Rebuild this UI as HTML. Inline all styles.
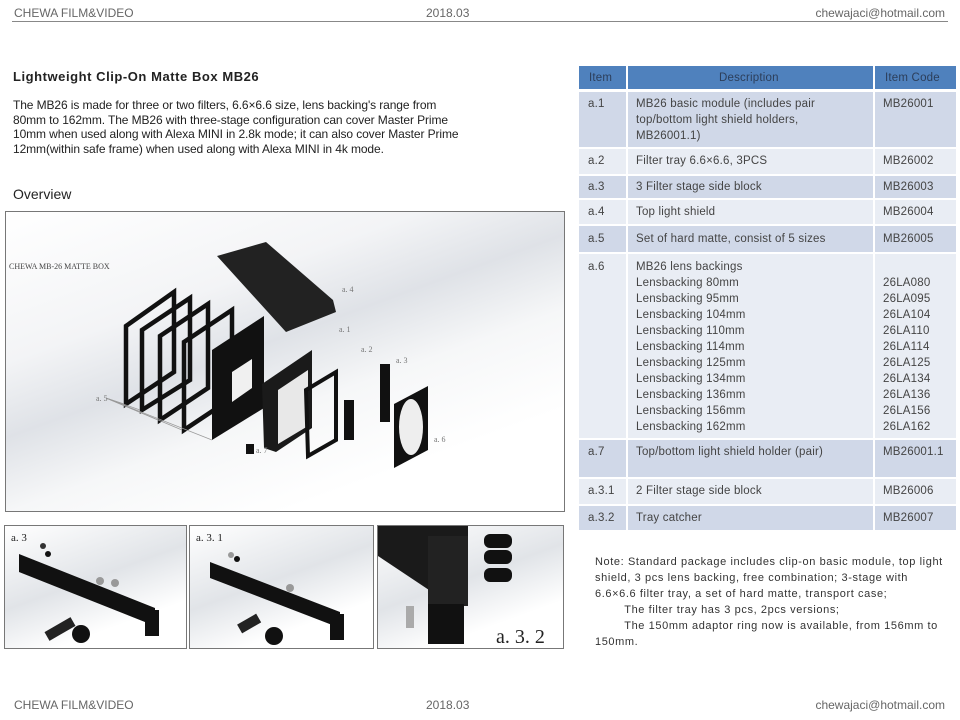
<!DOCTYPE html>
<html><head><meta charset="utf-8"><style>
*{margin:0;padding:0;box-sizing:border-box}
body{width:960px;height:720px;position:relative;background:#fff;font-family:"Liberation Sans",sans-serif;overflow:hidden;color:#222}
.a{position:absolute;white-space:nowrap}
.hd{font-size:12px;color:#666}
.r{position:absolute;left:579px;width:377px}
.c{position:absolute;top:0;bottom:0}
.c1{left:0;width:47px}.c2{left:49px;width:245px}.c3{left:296px;width:81px}
.t{position:absolute;font-size:11.5px;color:#444;line-height:16px;white-space:nowrap;letter-spacing:0.2px}
.dk .c{background:#d0d8e8}.lt .c{background:#e9edf4}
.img{position:absolute;border:1px solid #777;overflow:hidden}
</style></head><body>
<div class="a hd" style="left:14px;top:6px">CHEWA FILM&amp;VIDEO</div>
<div class="a hd" style="left:426px;top:6px">2018.03</div>
<div class="a hd" style="right:15px;top:6px">chewajaci@hotmail.com</div>
<div class="a" style="left:12px;top:21px;width:936px;height:1px;background:#888"></div>

<div class="a" style="left:13px;top:69px;font-size:13px;font-weight:bold;color:#222;letter-spacing:0.55px">Lightweight Clip-On Matte Box MB26</div>
<div class="a" style="left:13px;top:98px;font-size:12px;line-height:14.7px;color:#222;letter-spacing:-0.1px">The MB26 is made for three or two filters, 6.6×6.6 size, lens backing's range from<br>80mm to 162mm. The MB26 with three-stage configuration can cover Master Prime<br>10mm when used along with Alexa MINI in 2.8k mode; it can also cover Master Prime<br>12mm(within safe frame) when used along with Alexa MINI in 4k mode.</div>
<div class="a" style="left:13px;top:186px;font-size:14px;color:#222">Overview</div>

<!-- main image -->
<div class="img" style="left:5px;top:211px;width:560px;height:301px;background:linear-gradient(160deg,#fff 0%,#f3f4f6 30%,#dfe2e7 45%,#f6f7f8 60%,#fff 80%)">
<svg width="560" height="301" viewBox="0 0 560 301" xmlns="http://www.w3.org/2000/svg">
<text x="3" y="57" font-family="Liberation Serif" font-size="8" fill="#444">CHEWA MB-26 MATTE BOX</text>
<g fill="none" stroke="#111" stroke-width="4.5">
<polygon points="120,114 168,80 168,160 120,192"/>
<polygon points="136,118 184,86 184,168 136,198"/>
<polygon points="154,124 202,92 202,176 154,208"/>
<polygon points="178,130 226,98 226,186 178,218"/>
</g>
<polygon points="206,138 258,104 258,196 206,228" fill="#111"/>
<polygon points="226,160 246,147 246,176 226,190" fill="#f0f0f0"/>
<polygon points="211,44 260,30 327,88 330,100 280,120" fill="#222"/>
<polygon points="256,172 306,138 306,216 270,240 258,236" fill="#1a1a1a"/>
<polygon points="272,178 302,158 302,214 272,232" fill="#e8e8e8"/>
<polygon points="300,178 330,160 330,228 302,244" fill="none" stroke="#111" stroke-width="4"/>
<rect x="338" y="188" width="10" height="40" fill="#111"/>
<rect x="374" y="152" width="10" height="58" fill="#111"/>
<polygon points="388,192 422,174 422,238 388,256" fill="#111"/>
<ellipse cx="405" cy="215" rx="12" ry="28" fill="#eee"/>
<rect x="240" y="232" width="8" height="10" fill="#111"/>
<g stroke="#999" stroke-width="0.7"><line x1="100" y1="186" x2="118" y2="192"/><line x1="100" y1="186" x2="134" y2="198"/><line x1="100" y1="186" x2="152" y2="208"/><line x1="100" y1="186" x2="176" y2="218"/><line x1="100" y1="186" x2="206" y2="228"/></g>
<g font-family="Liberation Serif" font-size="8" fill="#777">
<text x="336" y="80">a. 4</text><text x="333" y="120">a. 1</text><text x="355" y="140">a. 2</text><text x="390" y="151">a. 3</text><text x="90" y="189">a. 5</text><text x="428" y="230">a. 6</text><text x="250" y="241">a. 7</text></g>
</svg></div>

<!-- bottom images -->
<div class="img" style="left:4px;top:525px;width:183px;height:124px;background:linear-gradient(160deg,#fff,#e1e4e8 45%,#fff 75%)">
<svg width="183" height="124"><text x="6" y="15" font-family="Liberation Serif" font-size="11" fill="#222">a. 3</text>
<polygon points="14,28 150,82 150,100 14,46" fill="#111"/><rect x="140" y="84" width="14" height="26" fill="#111"/>
<circle cx="76" cy="108" r="9" fill="#111"/><rect x="40" y="98" width="30" height="10" fill="#222" transform="rotate(-30 55 103)"/>
<circle cx="38" cy="20" r="3" fill="#333"/><circle cx="43" cy="28" r="3" fill="#111"/><circle cx="95" cy="55" r="4" fill="#999"/><circle cx="110" cy="57" r="4" fill="#999"/></svg></div>
<div class="img" style="left:189px;top:525px;width:185px;height:124px;background:linear-gradient(160deg,#fff,#e1e4e8 45%,#fff 75%)">
<svg width="185" height="124"><text x="6" y="15" font-family="Liberation Serif" font-size="11" fill="#222">a. 3. 1</text>
<polygon points="20,36 150,86 150,102 20,52" fill="#111"/><rect x="140" y="88" width="14" height="26" fill="#111"/>
<circle cx="84" cy="110" r="9" fill="#111"/><rect x="48" y="92" width="22" height="10" fill="#222" transform="rotate(-30 60 97)"/>
<circle cx="41" cy="29" r="3" fill="#999"/><circle cx="47" cy="33" r="3" fill="#111"/><circle cx="100" cy="62" r="4" fill="#999"/></svg></div>
<div class="img" style="left:377px;top:525px;width:187px;height:124px;background:linear-gradient(160deg,#fff,#e1e4e8 45%,#fff 75%)">
<svg width="187" height="124"><polygon points="0,0 90,0 90,60 60,70 0,30" fill="#1a1a1a"/>
<rect x="50" y="10" width="40" height="70" fill="#222"/><rect x="50" y="78" width="36" height="40" fill="#111"/>
<rect x="106" y="8" width="28" height="14" rx="6" fill="#111"/><rect x="106" y="24" width="28" height="14" rx="6" fill="#111"/><rect x="106" y="42" width="28" height="14" rx="6" fill="#111"/>
<rect x="28" y="80" width="8" height="22" fill="#aaa"/>
<text x="118" y="117" font-family="Liberation Serif" font-size="20" fill="#222">a. 3. 2</text></svg></div>

<!-- table -->
<div class="r" style="top:66px;height:23px"><div class="c c1" style="background:#4f81bd"></div><div class="c c2" style="background:#4f81bd"></div><div class="c c3" style="background:#4f81bd"></div>
<div class="t" style="left:10px;top:4px;color:#2c3e5a">Item</div><div class="t" style="left:140px;top:4px;color:#2c3e5a">Description</div><div class="t" style="left:306px;top:4px;color:#2c3e5a">Item Code</div></div>

<div class="r dk" style="top:92px;height:55px"><div class="c c1"></div><div class="c c2"></div><div class="c c3"></div>
<div class="t" style="left:9px;top:4px">a.1</div><div class="t" style="left:57px;top:4px">MB26 basic module (includes pair<br>top/bottom light shield holders,<br>MB26001.1)</div><div class="t" style="left:304px;top:4px">MB26001</div></div>
<div class="r lt" style="top:149px;height:25px"><div class="c c1"></div><div class="c c2"></div><div class="c c3"></div>
<div class="t" style="left:9px;top:4px">a.2</div><div class="t" style="left:57px;top:4px">Filter tray 6.6×6.6, 3PCS</div><div class="t" style="left:304px;top:4px">MB26002</div></div>
<div class="r dk" style="top:176px;height:22px"><div class="c c1"></div><div class="c c2"></div><div class="c c3"></div>
<div class="t" style="left:9px;top:3px">a.3</div><div class="t" style="left:57px;top:3px">3 Filter stage side block</div><div class="t" style="left:304px;top:3px">MB26003</div></div>
<div class="r lt" style="top:200px;height:24px"><div class="c c1"></div><div class="c c2"></div><div class="c c3"></div>
<div class="t" style="left:9px;top:4px">a.4</div><div class="t" style="left:57px;top:4px">Top light shield</div><div class="t" style="left:304px;top:4px">MB26004</div></div>
<div class="r dk" style="top:226px;height:26px"><div class="c c1"></div><div class="c c2"></div><div class="c c3"></div>
<div class="t" style="left:9px;top:5px">a.5</div><div class="t" style="left:57px;top:5px">Set of hard matte, consist of 5 sizes</div><div class="t" style="left:304px;top:5px">MB26005</div></div>
<div class="r lt" style="top:254px;height:184px"><div class="c c1"></div><div class="c c2"></div><div class="c c3"></div>
<div class="t" style="left:9px;top:5px">a.6</div>
<div class="t" style="left:57px;top:5px">MB26 lens backings<br>Lensbacking 80mm<br>Lensbacking 95mm<br>Lensbacking 104mm<br>Lensbacking 110mm<br>Lensbacking 114mm<br>Lensbacking 125mm<br>Lensbacking 134mm<br>Lensbacking 136mm<br>Lensbacking 156mm<br>Lensbacking 162mm</div>
<div class="t" style="left:304px;top:21px">26LA080<br>26LA095<br>26LA104<br>26LA110<br>26LA114<br>26LA125<br>26LA134<br>26LA136<br>26LA156<br>26LA162</div></div>
<div class="r dk" style="top:440px;height:37px"><div class="c c1"></div><div class="c c2"></div><div class="c c3"></div>
<div class="t" style="left:9px;top:4px">a.7</div><div class="t" style="left:57px;top:4px">Top/bottom light shield holder (pair)</div><div class="t" style="left:304px;top:4px">MB26001.1</div></div>
<div class="r lt" style="top:479px;height:25px"><div class="c c1"></div><div class="c c2"></div><div class="c c3"></div>
<div class="t" style="left:9px;top:4px">a.3.1</div><div class="t" style="left:57px;top:4px">2 Filter stage side block</div><div class="t" style="left:304px;top:4px">MB26006</div></div>
<div class="r dk" style="top:506px;height:24px"><div class="c c1"></div><div class="c c2"></div><div class="c c3"></div>
<div class="t" style="left:9px;top:4px">a.3.2</div><div class="t" style="left:57px;top:4px">Tray catcher</div><div class="t" style="left:304px;top:4px">MB26007</div></div>

<div class="a" style="left:595px;top:554px;font-size:11px;line-height:16px;color:#333;letter-spacing:0.6px">Note: Standard package includes clip-on basic module, top light<br>shield, 3 pcs lens backing, free combination; 3-stage with<br>6.6×6.6 filter tray, a set of hard matte, transport case;<br>&nbsp;&nbsp;&nbsp;&nbsp;&nbsp;&nbsp;&nbsp;&nbsp;The filter tray has 3 pcs, 2pcs versions;<br>&nbsp;&nbsp;&nbsp;&nbsp;&nbsp;&nbsp;&nbsp;&nbsp;The 150mm adaptor ring now is available, from 156mm to<br>150mm.</div>

<div class="a hd" style="left:14px;top:698px">CHEWA FILM&amp;VIDEO</div>
<div class="a hd" style="left:426px;top:698px">2018.03</div>
<div class="a hd" style="right:15px;top:698px">chewajaci@hotmail.com</div>
</body></html>
